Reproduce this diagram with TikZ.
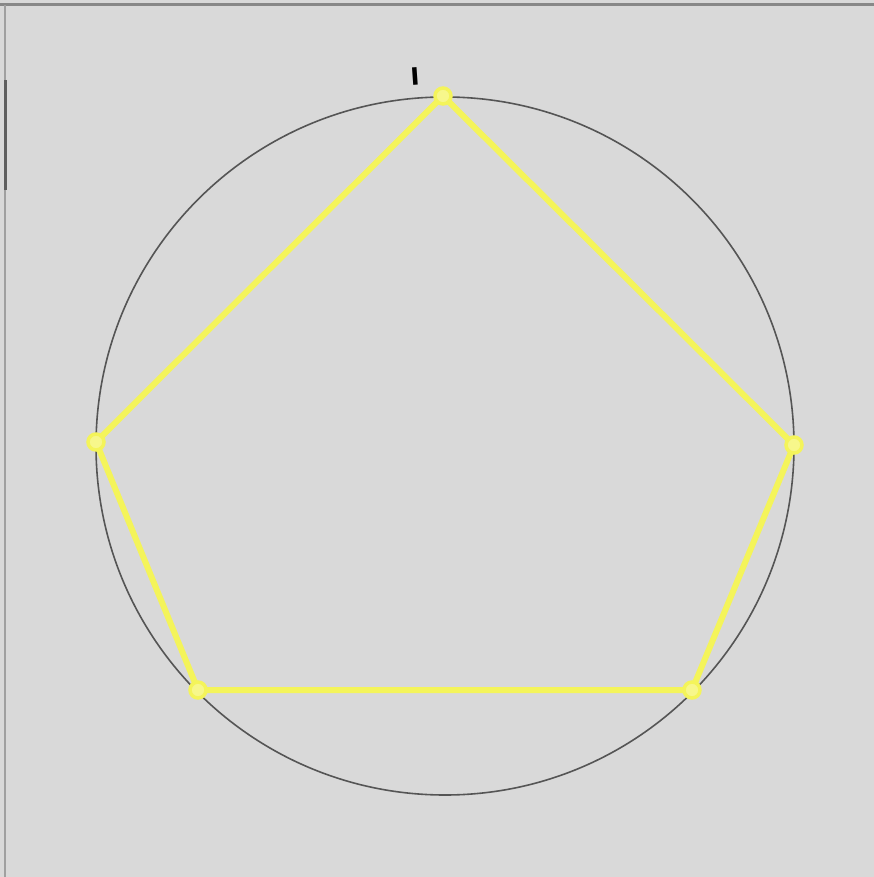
\documentclass[tikz,border=0pt]{standalone}
\usepackage{fontspec}
\newfontfamily\labfont{DejaVu Sans}
\definecolor{bg}{HTML}{D9D9D9}
\definecolor{ring}{HTML}{555555}
\definecolor{yel}{HTML}{F4F45A}
\definecolor{frame}{HTML}{888888}
\tikzset{
  side/.style={draw=yel, line width=6pt, line cap=round, line join=round},
  vtx/.style={circle, draw=yel, fill=yel!70!white, line width=3.5pt, minimum size=16pt, inner sep=0pt},
}
\begin{document}
\begin{tikzpicture}[x=1pt,y=-1pt]
\fill[bg] (0,0) rectangle (874,877);
\useasboundingbox (0,0) rectangle (874,877);
\draw[frame, line width=3pt] (0,5) -- (874,5);
\draw[frame!80!white, line width=1.5pt] (5,5) -- (5,877);
\draw[frame!70!black, line width=3pt] (5,80) -- (5,190);
\draw[ring, line width=1.6pt] (445,446) circle (349);
\coordinate (A) at (443,96);
\coordinate (B) at (794,445);
\coordinate (C) at (692,690);
\coordinate (D) at (198,690);
\coordinate (E) at (96,442);
\draw[side] (A) -- (B) -- (C) -- (D) -- (E) -- cycle;
\foreach \p in {A,B,C,D,E} \node[vtx] (v\p) at (\p) {};
\node[font=\labfont\bfseries\fontsize{24}{26}\selectfont, rotate=4, inner sep=0pt] (lab) at (415,76) {I};
\end{tikzpicture}
\end{document}
